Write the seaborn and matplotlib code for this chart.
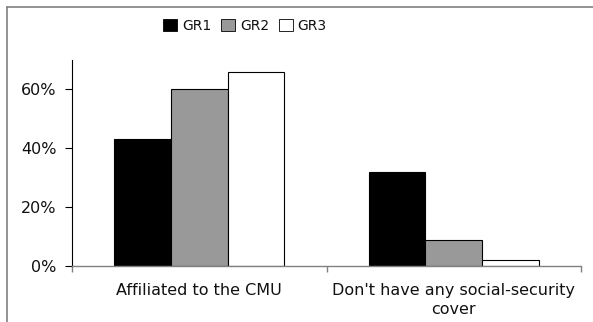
import matplotlib
matplotlib.use("Agg")
import matplotlib.pyplot as plt
import seaborn as sns
import pandas as pd
from matplotlib.ticker import PercentFormatter, FixedLocator
from matplotlib.lines import Line2D

categories = ["Affiliated to the CMU", "Don't have any social-security\ncover"]
groups = ["GR1", "GR2", "GR3"]
gr1 = [0.43, 0.32]
gr2 = [0.60, 0.09]
gr3 = [0.66, 0.02]
colors = ["#000000", "#999999", "#ffffff"]

rows = []
for g, vals in zip(groups, [gr1, gr2, gr3]):
    for c, v in zip(categories, vals):
        rows.append({"category": c, "group": g, "value": v})
df = pd.DataFrame(rows)

sns.set_style("white")
plt.rcParams['font.family'] = ['DejaVu Sans']

W, H = 593, 322
fig = plt.figure(figsize=(W / 100, H / 100), dpi=100)
ax = fig.add_axes([72 / W, 1 - 266 / H, (581 - 72) / W, (266 - 60) / H])

sns.barplot(data=df, x="category", y="value", hue="group", order=categories,
            hue_order=groups, palette=colors, edgecolor="black", linewidth=0.8,
            width=0.668, gap=0, ax=ax, legend=True, saturation=1)

ax.set_ylim(0, 0.70)
ax.set_xlim(-0.5, 1.5)
ax.yaxis.set_major_locator(FixedLocator([0, 0.2, 0.4, 0.6]))
ax.yaxis.set_major_formatter(PercentFormatter(1.0, decimals=0))
ax.set_xlabel("")
ax.set_ylabel("")

for s in ["top", "right"]:
    ax.spines[s].set_visible(False)
ax.spines["left"].set_color("black")
ax.spines["left"].set_linewidth(0.8)
ax.spines["bottom"].set_color("#808080")
ax.spines["bottom"].set_linewidth(1.0)

ax.tick_params(axis="y", which="major", direction="out", length=5, width=0.8,
               color="black", labelsize=11.5, pad=6, left=True, labelcolor="#111111")
ax.tick_params(axis="x", which="major", length=0, pad=12, labelsize=11.5, labelcolor="#111111")
ax.set_xticks([-0.5, 0.5, 1.5], minor=True)
ax.tick_params(axis="x", which="minor", direction="out", length=4, width=1.0,
               color="#808080", bottom=True)
for lbl in ax.get_xticklabels():
    lbl.set_linespacing(1.35)
    lbl.set_verticalalignment("top")

leg = ax.get_legend()
leg.remove()
handles = [plt.Rectangle((0, 0), 1, 1, facecolor=c, edgecolor="black", linewidth=0.6) for c in colors]
fig.legend(handles, groups, loc="center", bbox_to_anchor=(245 / W, 1 - 26 / H),
           ncol=3, frameon=False, fontsize=10, handlelength=1.0, handleheight=1.0,
           handletextpad=0.35, columnspacing=0.7, borderpad=0, labelcolor="#111111")

# outer frame (chart area border, cropped at right and bottom)
fig.add_artist(Line2D([7 / W, 1], [1 - 7 / H, 1 - 7 / H], color="#808080", lw=1.2,
                      transform=fig.transFigure))
fig.add_artist(Line2D([7 / W, 7 / W], [0, 1 - 7 / H], color="#808080", lw=1.2,
                      transform=fig.transFigure))

fig.savefig("out.png", dpi=100)
